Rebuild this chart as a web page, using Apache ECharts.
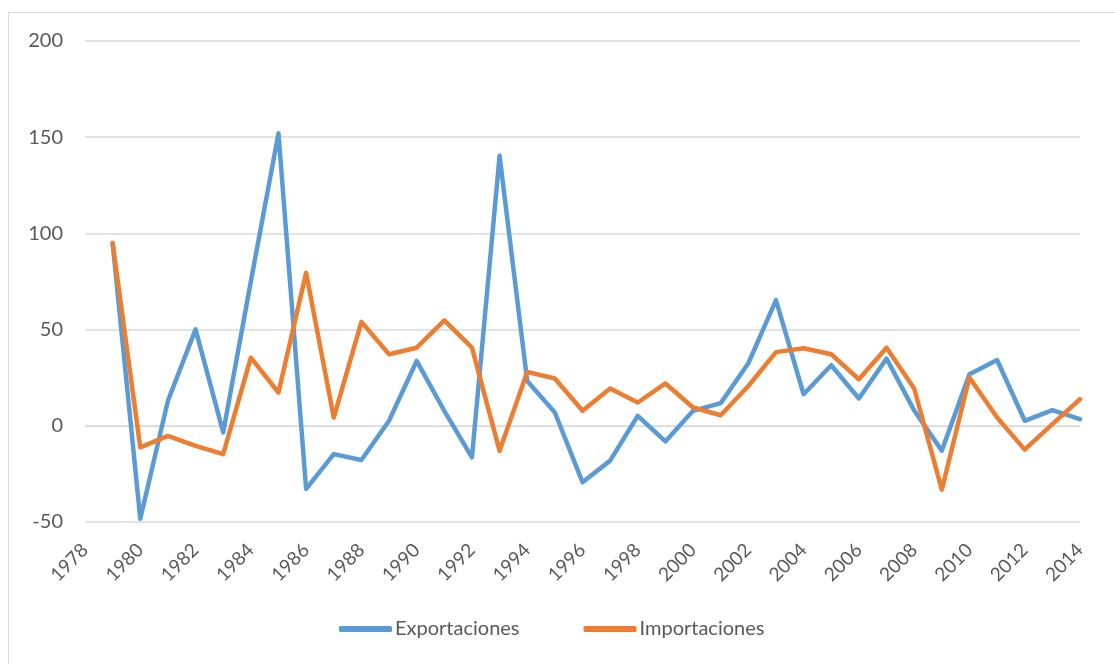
<!DOCTYPE html>
<html>
<head>
<meta charset="utf-8">
<script src="https://cdn.jsdelivr.net/npm/echarts@6/dist/echarts.min.js"></script>
<style>
  html, body { margin: 0; padding: 0; background: #fff; }
  #chart { width: 1115px; height: 664px; }
</style>
</head>
<body>
<div id="chart"></div>
<script>
const years = [1979, 1980, 1981, 1982, 1983, 1984, 1985, 1986, 1987, 1988,
  1989, 1990, 1991, 1992, 1993, 1994, 1995, 1996, 1997, 1998,
  1999, 2000, 2001, 2002, 2003, 2004, 2005, 2006, 2007, 2008,
  2009, 2010, 2011, 2012, 2013, 2014];

const exportaciones = [95, -48.3, 13, 50.1, -3.4, 75, 152, -32.8, -14.7, -17.8,
  2.6, 33.7, 7.8, -16.4, 140.3, 23.3, 6.9, -29.3, -18.1, 5.2,
  -8.1, 7.8, 11.8, 32.5, 65.3, 16.4, 31.5, 14.2, 34.9, 8,
  -12.9, 26.8, 34.2, 2.6, 8.1, 3.5];

const importaciones = [95, -11.2, -5.2, -10.4, -14.7, 35.4, 17.3, 79.5, 4.3, 54,
  37.2, 40.6, 54.8, 40.6, -13, 28, 24.6, 7.8, 19.4, 12.1,
  22, 9.5, 5.5, 20.7, 38.3, 40.3, 37.2, 24.2, 40.6, 19.4,
  -33.2, 25.1, 4.3, -12.4, 0.9, 13.8];

const zip = (xs, ys) => xs.map((x, i) => [x, ys[i]]);

const chart = echarts.init(document.getElementById('chart'));
const font = 'Lato, "Open Sans", sans-serif';

const option = {
  animation: false,
  textStyle: { fontFamily: font },
  graphic: [
    {
      type: 'polyline',
      shape: { points: [[8.5, 664], [8.5, 12.5], [1115, 12.5]] },
      style: { stroke: '#d9d9d9', lineWidth: 1, fill: null },
      silent: true,
    },
  ],
  grid: { left: 85, right: 35, top: 41, bottom: 142, containLabel: false },
  legend: {
    bottom: 20,
    left: 334,
    itemWidth: 53,
    itemHeight: 6,
    itemGap: 64,
    icon: 'roundRect',
    textStyle: { color: '#595959', fontSize: 20, fontFamily: font, padding: [0, 0, 0, -2] },
    data: ['Exportaciones', 'Importaciones'],
  },
  xAxis: {
    type: 'value',
    min: 1978,
    max: 2014,
    interval: 2,
    axisLine: { show: true, lineStyle: { color: '#d9d9d9' } },
    axisTick: { show: false },
    splitLine: { show: false },
    axisLabel: {
      rotate: 45,
      color: '#595959',
      fontSize: 19,
      fontFamily: font,
      margin: 25,
      showMinLabel: true,
      showMaxLabel: true,
      formatter: (v) => String(v),
    },
  },
  yAxis: {
    type: 'value',
    min: -50,
    max: 200,
    interval: 50,
    axisLine: { show: false },
    axisTick: { show: false },
    splitLine: { lineStyle: { color: '#d9d9d9', width: 1.5 } },
    axisLabel: { color: '#595959', fontSize: 20, fontFamily: font, margin: 22 },
  },
  series: [
    {
      name: 'Exportaciones',
      type: 'line',
      data: zip(years, exportaciones),
      showSymbol: false,
      lineStyle: { color: '#5B9BD5', width: 4.5, cap: 'round', join: 'round' },
      itemStyle: { color: '#5B9BD5' },
    },
    {
      name: 'Importaciones',
      type: 'line',
      data: zip(years, importaciones),
      showSymbol: false,
      lineStyle: { color: '#ED7D31', width: 4.5, cap: 'round', join: 'round' },
      itemStyle: { color: '#ED7D31' },
    },
  ],
};

chart.setOption(option);
</script>
</body>
</html>
